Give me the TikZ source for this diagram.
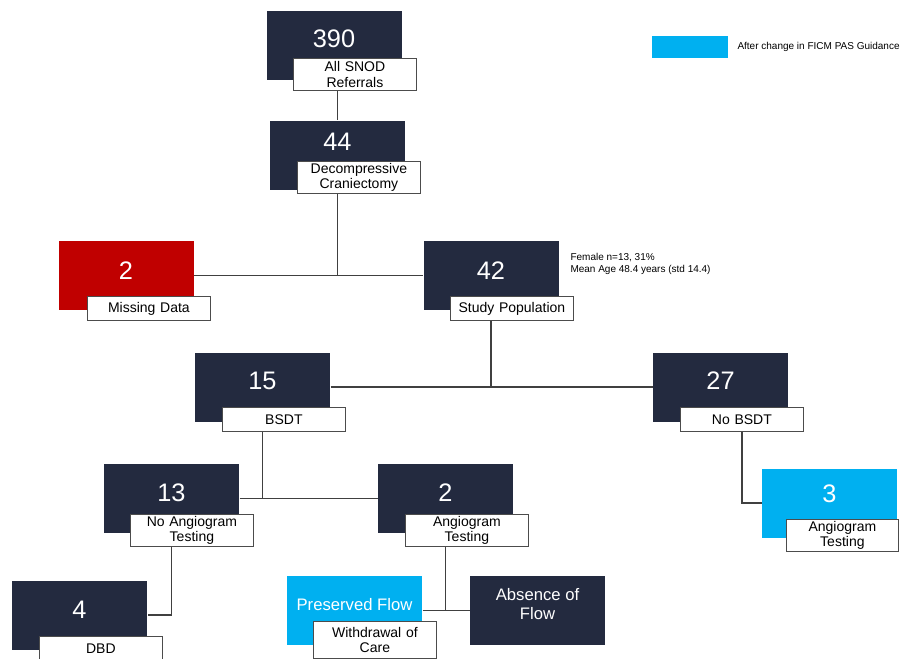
\documentclass[tikz,border=0pt]{standalone}
\usepackage{fontspec}
\setmainfont{Liberation Sans}
\definecolor{navybox}{HTML}{232A3F}
\definecolor{redbox}{HTML}{C00000}
\definecolor{cyanbox}{HTML}{00B0F0}
\tikzset{every picture/.style={line width=0.75pt}}
\tikzset{
  countbox/.style={fill=navybox, minimum width=101.25pt, minimum height=51.75pt, inner sep=0pt},
  counttxt/.style={text=white, inner sep=0.75pt, font=\fontsize{19}{19}\selectfont},
  flowtxt/.style={text=white, inner sep=0.75pt, align=center, font=\fontsize{12.5}{14.5}\selectfont},
  labbox/.style={draw=black!70, fill=white, line width=0.6pt, anchor=north west, inner sep=0.75pt,
    text width=90.75pt, align=center, minimum height=18pt, font=\fontsize{10.5}{11.5}\selectfont},
  twoline/.style={minimum height=24pt},
  link/.style={draw=black!75, line width=0.9pt},
  notetxt/.style={inner sep=0.75pt, align=left, font=\fontsize{7.5}{9}\selectfont}
}

\begin{document}
\begin{tikzpicture}[x=0.75pt,y=0.75pt,yscale=-1,xscale=1]
  \useasboundingbox (0,0) rectangle (904,658);

  %Shape: count boxes
  \node [countbox] (n390) at (334,45) {};
  \node [countbox] (n44) at (337.5,155) {};
  \node [countbox, fill=redbox] (nMiss) at (126,275.5) {};
  \node [countbox] (n42) at (491,275.5) {};
  \node [countbox] (n15) at (262.5,387) {};
  \node [countbox] (n27) at (720.5,387) {};
  \node [countbox] (n13) at (171.5,498.5) {};
  \node [countbox] (nAng) at (445.5,498.5) {};
  \node [countbox, fill=cyanbox] (n3) at (829.5,503) {};
  \node [countbox] (n4) at (79.5,615) {};
  \node [countbox, fill=cyanbox] (nPres) at (354.5,610.5) {};
  \node [countbox] (nAbs) at (537.5,610.5) {};

  % Text Node: counts
  \node [counttxt] (t390) at (334,39) {390};
  \node [counttxt] (t44) at (337.5,142) {44};
  \node [counttxt] (tMiss) at (126,271) {2};
  \node [counttxt] (t42) at (491,271) {42};
  \node [counttxt] (t15) at (262.5,381) {15};
  \node [counttxt] (t27) at (720.5,381) {27};
  \node [counttxt] (t13) at (171.5,493) {13};
  \node [counttxt] (tAng) at (445.5,493) {2};
  \node [counttxt] (t3) at (829.5,494) {3};
  \node [counttxt] (t4) at (79.5,610) {4};
  \node [flowtxt] (tPres) at (354.5,605) {Preserved Flow};
  \node [flowtxt] (tAbs) at (537.5,604) {Absence of\\Flow};

  % Text Node: captions
  \node [labbox, twoline] (lab390) at (293,58) {All SNOD\\Referrals};
  \node [labbox, twoline] (lab44) at (297,161) {Decompressive\\Craniectomy};
  \node [labbox] (labMiss) at (87,296) {Missing Data};
  \node [labbox] (lab42) at (450,296) {Study Population};
  \node [labbox] (lab15) at (222,407) {BSDT};
  \node [labbox] (lab27) at (680,407) {No BSDT};
  \node [labbox, twoline] (lab13) at (130,514) {No Angiogram\\Testing};
  \node [labbox, twoline] (labAng) at (405,514) {Angiogram\\Testing};
  \node [labbox, twoline, text width=82.5pt] (lab3) at (786,519) {Angiogram\\Testing};
  \node [labbox] (lab4) at (39,636) {DBD};
  \node [labbox, twoline, minimum height=28pt] (labPres) at (313,621) {Withdrawal of\\Care};

  % connectors
  \draw [link] (n44 |- lab390.south) -- (n44.north);
  \draw [link] (n44 |- lab44.south) -- (n44 |- nMiss.east);
  \draw [link] (nMiss.east) -- (n42.west);
  \draw [link] (n42 |- lab42.south) -- (n42 |- n15.east);
  \draw [link] (n15.east) -- (n27.west);
  \draw [link] (n15 |- lab15.south) -- (n15 |- n13.east);
  \draw [link] (n13.east) -- (nAng.west);
  \draw [link] (lab27.south) |- (n3.west);
  \draw [link] (n13 |- lab13.south) |- (n4.east);
  \draw [link] (nAng |- labAng.south) -- (nAng |- nPres.east);
  \draw [link] (nPres.east) -- (nAbs.west);

  % Text Node: notes and legend
  \node [notetxt, anchor=north west] (note42) at (569,252) {Female n=13, 31\%\\Mean Age 48.4 years (std 14.4)};
  \node [fill=cyanbox, minimum width=57pt, minimum height=16.5pt, inner sep=0pt] (keyBox) at (690,47) {};
  \node [notetxt, anchor=west] (keyTxt) at (736,47) {After change in FICM PAS Guidance};

\end{tikzpicture}
\end{document}
